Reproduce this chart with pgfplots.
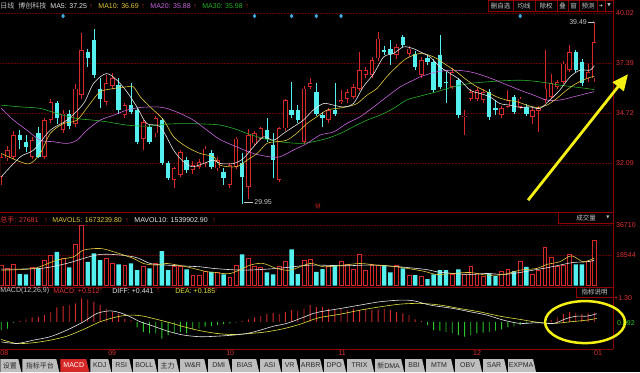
\documentclass[border=0pt]{standalone}
\usepackage{pgfplots}
\pgfplotsset{compat=1.18}
\usepackage{pgfplotstable}
\usepackage{fontspec}
\setmainfont{Liberation Sans}
\newfontfamily\cjk{Noto Sans CJK SC}
\newfontfamily\dejavu{DejaVu Sans}
\usetikzlibrary{arrows.meta}

\definecolor{upred}{RGB}{215,40,40}
\definecolor{dncyan}{RGB}{84,240,240}
\definecolor{ma5c}{RGB}{230,230,230}
\definecolor{ma10c}{RGB}{225,200,60}
\definecolor{ma20c}{RGB}{200,100,220}
\definecolor{ma30c}{RGB}{40,175,40}
\definecolor{gridred}{RGB}{100,0,0}
\definecolor{sepred}{RGB}{140,0,0}
\definecolor{lblred}{RGB}{225,50,50}
\definecolor{macdgreen}{RGB}{40,200,40}
\definecolor{deac}{RGB}{225,225,60}
\definecolor{diamc}{RGB}{60,170,225}
\definecolor{lgray}{RGB}{200,200,200}
\definecolor{tabgray}{RGB}{190,190,190}
\definecolor{tabtext}{RGB}{40,40,40}
\definecolor{arrowy}{RGB}{245,240,20}

\pgfplotstableread{
i o h l c
0 31.38 32.60 30.94 32.43
1 32.35 33.00 32.20 32.79
2 32.43 33.80 32.30 33.58
5 32.43 33.50 32.30 33.31
7 32.43 34.50 32.30 34.37
8 34.37 35.50 34.20 35.34
10 33.84 34.90 33.70 34.72
12 34.19 36.30 34.00 36.04
13 35.69 38.95 35.50 38.07
17 35.34 36.75 35.16 36.31
18 36.20 36.85 36.00 36.60
20 34.63 35.30 34.50 35.16
23 33.40 34.40 32.79 34.28
25 33.67 34.60 33.50 34.46
28 31.20 31.90 30.76 31.82
29 31.47 32.80 31.38 32.70
31 31.73 32.20 31.50 31.99
32 31.91 32.30 31.80 32.17
33 32.08 33.00 31.90 32.87
35 31.82 32.40 31.70 32.26
37 30.94 32.10 30.80 31.99
38 31.91 33.50 31.80 33.40
40 30.85 33.90 30.20 33.58
41 33.14 33.80 33.00 33.67
42 33.40 34.00 33.30 33.93
45 31.20 34.00 31.10 33.93
46 33.93 35.50 33.80 35.43
49 33.23 36.20 33.10 36.04
50 36.13 36.57 36.00 36.31
53 34.37 35.00 34.20 34.90
55 35.34 35.95 35.20 35.43
56 35.51 36.00 35.30 35.87
57 35.60 36.30 35.50 36.13
58 36.04 37.98 35.90 37.01
59 36.75 37.20 36.60 37.01
60 36.75 37.70 36.60 37.54
61 37.63 39.03 37.50 38.68
64 37.80 38.40 37.60 38.24
66 37.89 38.30 37.70 38.15
68 36.75 37.70 36.60 37.54
73 36.13 37.10 36.00 36.92
75 34.55 34.90 33.58 34.60
76 35.51 36.00 35.40 35.87
77 35.51 36.10 35.40 35.95
78 35.43 36.00 35.30 35.87
81 34.63 35.10 34.50 34.99
82 35.07 35.95 35.00 35.43
84 35.07 35.60 34.95 35.51
86 34.55 35.00 34.19 34.90
87 34.86 35.10 33.75 34.99
88 35.43 38.07 35.30 36.04
89 35.60 36.83 35.50 36.31
90 36.13 36.50 36.00 36.39
91 36.39 37.50 36.30 37.36
92 37.01 38.33 36.90 37.98
95 36.57 37.36 36.40 36.92
96 36.57 39.49 36.40 38.51
}\upc

\pgfplotstableread{
i o h l c
3 33.58 33.84 32.87 33.31
4 33.23 33.58 32.70 32.96
6 33.67 34.02 32.35 32.43
9 35.29 35.40 34.19 34.46
11 34.72 34.90 33.90 34.05
14 37.98 38.15 37.19 37.63
15 38.59 39.21 36.60 36.75
16 36.04 36.57 34.99 35.51
19 36.22 36.57 34.72 34.90
21 35.16 36.31 34.70 34.81
22 34.90 35.00 33.10 33.23
24 34.02 34.10 33.10 33.23
26 34.37 34.50 32.00 32.08
27 32.08 32.20 31.20 31.29
30 32.26 32.40 31.60 31.73
34 32.61 32.80 31.80 31.91
36 31.64 31.82 30.94 31.29
39 32.08 32.61 29.95 31.38
43 33.84 34.46 33.23 33.40
44 33.05 33.67 31.29 32.26
47 34.90 36.39 34.50 34.63
48 34.90 35.16 34.20 34.37
51 35.87 36.31 34.60 34.72
52 34.63 34.81 34.02 34.46
54 34.90 36.31 34.60 34.72
62 38.07 38.30 37.80 37.98
63 38.15 38.59 37.27 37.89
65 38.77 38.85 38.24 38.33
67 37.89 38.00 37.00 37.19
69 37.63 37.80 37.30 37.45
70 37.45 37.60 35.80 35.95
71 37.80 38.86 36.00 36.13
72 36.39 36.92 35.25 36.31
74 36.48 36.60 34.50 34.63
79 35.87 36.00 34.40 34.55
80 34.99 35.43 34.63 34.90
83 35.57 35.70 34.70 34.81
85 35.07 35.20 34.60 34.72
93 37.98 38.10 36.90 37.01
94 37.45 37.60 36.20 36.31
}\dnc

\pgfplotstableread{
i v
0 12458
1 10441
2 12862
5 11046
7 15484
8 18509
10 16492
12 24964
13 36710
17 16492
18 13467
20 12458
23 11450
25 13467
28 11450
29 11450
31 6407
32 6003
33 8424
35 8020
37 4793
38 12055
40 16492
41 11450
42 10845
45 11450
46 14475
49 15484
50 16089
53 11450
55 14879
56 12862
57 10038
58 18913
59 9432
60 12055
61 12458
64 12055
66 6003
68 5398
73 6810
75 6810
76 11450
77 7416
78 5398
81 8424
82 10038
84 14879
86 6810
87 9432
88 22946
89 16895
90 11450
91 12055
92 18913
95 14879
96 27681
}\volup

\pgfplotstableread{
i v
3 7012
4 6810
6 10441
9 20526
11 11046
14 14475
15 19518
16 15484
19 12862
21 13467
22 9432
24 10441
26 20930
27 9432
30 9836
34 8424
36 6810
39 18913
43 8020
44 6810
47 21937
48 7012
51 8424
52 10038
54 12458
62 12458
63 8020
65 10441
67 6407
69 3987
70 6810
71 9432
72 9432
74 9836
79 7416
80 5802
83 8827
85 11450
93 12862
94 12862
}\voldn

\pgfplotstableread{
i m
3 0.05
4 0.13
5 0.24
6 0.27
7 0.37
8 0.55
9 0.79
10 0.86
11 0.92
12 1.01
13 1.28
14 1.23
15 1.10
16 0.92
17 0.73
18 0.55
19 0.42
20 0.18
21 0.09
39 0.05
40 0.13
41 0.24
42 0.31
43 0.42
44 0.49
45 0.42
46 0.55
47 0.64
48 0.60
49 0.73
50 0.92
51 0.82
52 0.82
53 0.73
54 0.64
55 0.73
56 0.64
57 0.73
58 0.64
59 0.73
60 0.64
61 0.68
62 0.73
63 0.64
64 0.55
65 0.46
66 0.37
67 0.13
68 0.04
89 0.09
90 0.24
91 0.42
92 0.55
93 0.49
94 0.42
95 0.46
96 0.512
}\macdpos

\pgfplotstableread{
i m
0 -0.46
1 -0.37
2 -0.05
22 -0.31
23 -0.55
24 -0.64
25 -0.64
26 -0.92
27 -0.73
28 -0.64
29 -0.55
30 -0.64
31 -0.42
32 -0.37
33 -0.27
34 -0.24
35 -0.18
36 -0.13
37 -0.09
38 -0.04
69 -0.18
70 -0.46
71 -0.49
72 -0.55
73 -0.64
74 -0.73
75 -0.82
76 -0.73
77 -0.64
78 -0.60
79 -0.55
80 -0.49
81 -0.42
82 -0.31
83 -0.27
84 -0.18
85 -0.09
86 -0.05
87 -0.05
88 -0.02
}\macdneg

\pgfplotsset{panel/.style={scale only axis, width=612pt, xmin=-0.16, xmax=98.87,
  axis line style={draw=none}, xtick=\empty, ytick=\empty, clip=true}}

\newcommand{\tabb}[5]{%
  \fill[#4] (#1,0) -- (#1,13) -- ({#2-3},13) -- (#2,0) -- cycle;
  \node[text=#5] at ({(#1+#2)/2-1},6.5) {#3};}

\begin{document}
\begin{tikzpicture}
\fill[black] (0pt,0pt) rectangle (640pt,372pt);

\begin{scope}[x=1pt,y=1pt]
\foreach \yy in {359,309,259,209} \draw[gridred, densely dotted, line width=0.5pt] (0,\yy) -- (612,\yy);
\foreach \yy in {147,117} \draw[gridred, densely dotted, line width=0.5pt] (0,\yy) -- (612,\yy);
\end{scope}

% ===== price panel =====
\begin{axis}[panel, at={(0pt,160pt)}, anchor=south west, height=200pt, ymin=29.51, ymax=40.07]
\addplot[draw=none, mark=none, error bars/.cd, y dir=plus, y explicit, error mark=none,
  error bar style={draw=upred, line width=0.7pt}]
  table[x=i, y=l, y error plus expr=\thisrow{h}-\thisrow{l}] {\upc};
\addplot[draw=none, mark=none, error bars/.cd, y dir=plus, y explicit, error mark=none,
  error bar style={draw=upred, line width=4.4pt}]
  table[x=i, y=o, y error plus expr=\thisrow{c}-\thisrow{o}] {\upc};
\addplot[draw=none, mark=none, error bars/.cd, y dir=plus, y explicit, error mark=none,
  error bar style={draw=black, line width=2.8pt, shorten >=0.8pt, shorten <=0.8pt}]
  table[x=i, y=o, y error plus expr=\thisrow{c}-\thisrow{o}] {\upc};
\addplot[draw=none, mark=none, error bars/.cd, y dir=plus, y explicit, error mark=none,
  error bar style={draw=dncyan, line width=0.7pt}]
  table[x=i, y=l, y error plus expr=\thisrow{h}-\thisrow{l}] {\dnc};
\addplot[draw=none, mark=none, error bars/.cd, y dir=plus, y explicit, error mark=none,
  error bar style={draw=dncyan, line width=4.4pt}]
  table[x=i, y=c, y error plus expr=\thisrow{o}-\thisrow{c}] {\dnc};
\addplot[ma30c, line width=0.6pt, smooth, mark=none] coordinates {(0,35.16) (3.07,35.07) (6.31,34.99) (9.0,34.72) (12.2,34.46) (14.9,34.37) (17.1,34.28) (20.3,34.11) (23.6,34.05) (26.8,34.16) (30.0,34.19) (33.3,34.16) (35.4,34.11) (37.6,33.93) (39.8,33.67) (42.4,33.40) (45.1,33.23) (48.4,33.14) (50.5,33.23) (52.7,33.40) (54.9,33.67) (57.0,34.02) (59.2,34.37) (61.3,34.63) (63.5,34.99) (65.6,35.43) (67.8,35.64) (70.5,35.87) (73.2,36.13) (75.9,36.31) (78.6,36.39) (81.3,36.45) (84.0,36.48) (86.2,36.43) (88.3,36.34) (90.4,36.22) (92.6,36.13) (94.8,36.04) (96,35.98)};
\addplot[ma20c, line width=0.6pt, smooth, mark=none] coordinates {(0,34.99) (2.0,34.37) (4.15,33.84) (6.31,33.31) (8.47,33.23) (10.63,33.14) (12.24,33.31) (13.86,33.84) (16.02,34.37) (18.18,34.63) (20.33,34.90) (22.5,35.04) (25.2,35.07) (26.8,34.99) (29.0,34.72) (31.1,34.37) (33.3,33.84) (35.4,33.35) (38.1,32.96) (40.8,32.61) (43.5,32.43) (45.1,32.43) (47.3,32.79) (49.5,33.14) (51.6,33.58) (53.8,33.75) (55.9,34.19) (58.1,34.55) (60.3,35.07) (62.4,35.60) (64.6,36.13) (66.7,36.48) (67.8,36.66) (70.5,36.92) (73.2,37.01) (75.9,36.92) (78.6,36.66) (81.3,36.31) (84.0,35.95) (86.2,35.69) (88.3,35.43) (90.4,35.43) (92.6,35.60) (94.8,35.78) (96,35.88)};
\addplot[ma10c, line width=0.6pt, smooth, mark=none] coordinates {(0,32.61) (3.07,32.17) (4.69,32.08) (6.31,32.61) (7.93,33.67) (10.09,34.19) (12.24,34.37) (14.4,35.25) (16.02,35.87) (18.18,36.04) (20.33,36.13) (21.4,36.13) (22.5,35.60) (24.1,35.07) (26.3,34.37) (27.9,33.49) (30.0,32.96) (32.2,32.61) (34.4,32.43) (35.4,31.99) (38.1,31.91) (39.8,32.26) (41.4,32.61) (43.0,33.14) (44.6,33.23) (46.2,33.31) (47.8,33.67) (49.5,34.19) (51.1,34.55) (52.7,34.90) (54.3,34.99) (55.9,35.07) (57.6,35.25) (59.2,35.69) (60.8,36.04) (62.4,36.66) (64.0,37.19) (65.6,37.63) (67.8,37.89) (70.0,37.71) (72.1,37.27) (73.7,36.92) (75.4,36.48) (77.0,36.13) (78.6,35.87) (80.2,35.60) (81.8,35.43) (83.5,35.34) (85.1,35.16) (86.7,35.04) (88.3,35.16) (89.9,35.51) (91.5,35.95) (93.1,36.31) (94.8,36.57) (96,36.69)};
\addplot[ma5c, line width=0.6pt, smooth, mark=none] coordinates {(0,31.38) (3.07,32.43) (5.23,32.79) (7.93,33.84) (10.63,34.37) (13.32,35.25) (14.94,36.31) (16.99,36.83) (18.72,36.48) (20.33,35.87) (21.95,35.07) (23.57,34.19) (25.73,34.02) (27.89,32.79) (29.23,32.26) (30.85,31.91) (32.74,32.08) (34.36,32.26) (35.44,32.08) (37.6,32.08) (39.2,32.35) (40.83,32.96) (42.45,33.49) (44.07,33.31) (45.68,33.67) (47.3,34.02) (48.9,34.37) (50.5,34.90) (52.2,35.25) (53.8,35.16) (55.4,35.07) (57.0,35.25) (58.6,36.13) (60.3,36.83) (61.9,37.71) (63.5,37.89) (65.1,38.24) (66.7,38.15) (67.8,37.98) (69.4,37.71) (71.0,37.19) (72.7,36.83) (74.3,36.48) (75.9,35.95) (77.5,35.78) (79.1,35.60) (80.7,35.25) (82.4,35.16) (84.0,35.04) (85.6,35.07) (87.2,34.99) (88.8,35.43) (90.4,35.95) (92.1,36.66) (93.7,37.01) (95.3,37.01) (96,37.25)};
\addplot[only marks, mark=diamond*, mark size=2pt, color=diamc] coordinates {(10,39.87) (41,39.87) (47,39.87) (51,39.87) (55,39.87) (84,39.87)};
\end{axis}

% ===== volume panel =====
\begin{axis}[panel, at={(0pt,86pt)}, anchor=south west, height=74pt, ymin=-240, ymax=44528]
\addplot[ybar, bar width=3.8pt, bar shift=0pt, draw=upred, fill=black, line width=0.7pt] table[x=i, y=v] {\volup};
\addplot[ybar, bar width=4.4pt, bar shift=0pt, draw=none, fill=dncyan] table[x=i, y=v] {\voldn};
\addplot[ma5c, line width=0.6pt, smooth, mark=none] coordinates {(0,10038) (6.3,10441) (10.6,13500) (16.0,18913) (21.4,17501) (24.1,13467) (26.8,12458) (32.2,11450) (34.4,10441) (39.2,9432) (44.6,10441) (50.0,12458) (55.4,12055) (60.8,12458) (68.3,10038) (70.5,8424) (73.2,7416) (75.9,6810) (78.6,7416) (81.3,6810) (84.0,8020) (86.1,9432) (88.3,10845) (90.4,12458) (92.6,14072) (94.8,14475) (96,15399)};
\addplot[ma10c, line width=0.6pt, smooth, mark=none] coordinates {(0,9432) (5.2,10441) (9.0,15484) (11.7,17501) (13.3,21534) (16.0,22543) (18.2,20526) (21.4,16492) (23.0,13467) (25.2,12458) (26.8,13467) (30.0,11450) (33.3,8424) (34.6,8020) (37.1,7416) (40.3,12458) (42.4,13467) (44.6,10441) (46.8,9432) (50.0,13467) (52.2,11450) (55.4,12458) (58.1,13467) (60.8,12458) (64.0,11450) (68.3,8827) (70.5,6810) (73.2,7416) (75.9,8020) (78.6,6407) (81.3,6810) (84.0,9432) (86.7,10441) (88.3,12862) (90.4,14475) (92.3,18106) (94.2,14475) (96,16732)};
\end{axis}

% ===== MACD panel =====
\begin{axis}[panel, at={(0pt,24pt)}, anchor=south west, height=58pt, ymin=-1.444, ymax=1.740]
\addplot[ybar, bar width=0.9pt, bar shift=0pt, draw=none, fill=upred] table[x=i, y=m] {\macdpos};
\addplot[ybar, bar width=0.9pt, bar shift=0pt, draw=none, fill=macdgreen] table[x=i, y=m] {\macdneg};
\addplot[deac, line width=0.6pt, smooth, mark=none] coordinates {(0,-0.97) (2.5,-1.19) (5.2,-1.15) (7.9,-1.01) (10.6,-0.79) (13.3,-0.42) (16.0,0.00) (18.7,0.27) (20.9,0.37) (23.0,0.31) (25.2,0.13) (27.3,-0.05) (29.5,-0.27) (32.2,-0.49) (34.9,-0.64) (37.6,-0.70) (40.3,-0.64) (43.0,-0.55) (45.8,-0.37) (48.4,-0.13) (50.5,0.13) (51.6,0.24) (54.9,0.42) (58.1,0.64) (61.3,0.82) (64.6,0.97) (67.8,1.01) (71.0,0.92) (74.2,0.73) (77.4,0.55) (80.7,0.31) (84.0,0.13) (86.7,-0.02) (89.4,-0.09) (92.1,0.00) (94.8,0.09) (96.4,0.185)};
\addplot[ma5c, line width=0.6pt, smooth, mark=none] coordinates {(0,-1.10) (2.5,-1.19) (5.2,-1.01) (7.9,-0.82) (10.6,-0.46) (13.3,0.00) (15.5,0.46) (17.6,0.60) (19.3,0.49) (20.9,0.27) (22.5,0.00) (24.1,-0.18) (25.7,-0.37) (27.3,-0.55) (29.5,-0.73) (32.2,-0.82) (34.9,-0.79) (37.6,-0.73) (39.8,-0.64) (41.9,-0.46) (44.1,-0.24) (46.2,-0.09) (48.4,0.18) (50.5,0.46) (51.6,0.55) (54.9,0.73) (58.1,0.92) (61.3,1.10) (64.6,1.19) (66.8,1.15) (69.4,0.92) (73.2,0.73) (75.9,0.55) (78.6,0.37) (81.3,0.09) (84.0,-0.09) (86.7,-0.05) (89.4,-0.09) (91.5,0.18) (93.2,0.31) (94.8,0.31) (96.4,0.441)};
\end{axis}

\begin{scope}[x=1pt,y=1pt, every node/.style={font=\fontsize{7}{8}\selectfont, inner sep=0pt}]
\draw[sepred, line width=0.6pt] (0,160) -- (613,160);
\draw[sepred, line width=0.6pt] (0,85) -- (613,85);
\draw[sepred, line width=0.6pt] (0,23) -- (613,23);
\draw[sepred, line width=0.6pt] (613,360) -- (613,23);

\node[anchor=west, text=lgray] at (0,366) {\cjk 日线};
\node[anchor=west, text=lgray] at (18,366) {\cjk 博创科技};
\node[anchor=west, text=ma5c] at (50,366) {MA5: 37.25};
\node[anchor=west, text=upred] at (89,366) {↑};
\node[anchor=west, text=ma10c] at (98,366) {MA10: 36.69};
\node[anchor=west, text=upred] at (141,366) {↑};
\node[anchor=west, text=ma20c] at (150,366) {MA20: 35.88};
\node[anchor=west, text=upred] at (193,366) {↑};
\node[anchor=west, text=ma30c] at (202,366) {MA30: 35.98};
\node[anchor=west, text=upred] at (245,366) {↑};

\foreach \xa/\xb/\tx in {488/513/删自选, 513/535/均线, 535/557/除权, 557/568/叠, 568/579/窗, 579/597/预测}{
  \draw[sepred, line width=0.5pt] (\xa,361) rectangle (\xb,372);
  \node[text=lgray] at ({(\xa+\xb)/2},366.5) {\cjk\fontsize{6.5}{7}\selectfont \tx};
}
\draw[sepred, line width=0.5pt] (597,361) rectangle (605,372);
\node[text=lgray] at (601,366.5) {\dejavu\fontsize{5}{6}\selectfont ➜};
\draw[sepred, line width=0.5pt] (605,361) rectangle (613,372);
\node[text=lgray] at (609,366.5) {\dejavu\fontsize{4.5}{5}\selectfont ▼};

\node[anchor=west, text=lblred] at (616,359) {40.02};
\node[anchor=west, text=lblred] at (616,309.5) {37.39};
\node[anchor=west, text=lblred] at (616,259) {34.72};
\node[anchor=west, text=lblred] at (616,209.5) {32.09};

\draw[lgray, line width=0.5pt] (244,170) -- (253,170);
\node[anchor=west, text=lgray] at (254,170) {29.95};
\node[anchor=east, text=lgray] at (587,350) {39.49};
\draw[lgray, line width=0.5pt, -{Stealth[length=2pt]}] (588,350) -- (595,350);
\node[text=upred] at (318,166) {\cjk\fontsize{5.5}{6}\selectfont 财};

\node[anchor=west, text=lblred] at (0,152) {{\cjk 总手}: 27681};
\node[anchor=west, text=upred] at (44,152) {↑};
\node[anchor=west, text=ma10c] at (52,152) {MAVOL5: 1673239.80};
\node[anchor=west, text=upred] at (125,152) {↑};
\node[anchor=west, text=ma5c] at (134,152) {MAVOL10: 1539902.90};
\node[anchor=west, text=upred] at (212,152) {↑};
\draw[sepred, line width=0.5pt] (558,149) rectangle (613,160);
\node[text=lgray] at (586,154.5) {\cjk\fontsize{6.5}{7}\selectfont 成交量};
\node[text=lgray] at (608,154.5) {\dejavu\fontsize{4}{5}\selectfont ▼};
\node[anchor=west, text=lblred] at (616,147) {36710};
\node[anchor=west, text=lblred] at (616,117) {18544};

\node[anchor=west, text=lgray] at (0,81) {MACD(12,26,9)};
\node[anchor=west, text=lblred] at (53,81) {MACD: +0.512};
\node[anchor=west, text=upred] at (99,81) {↑};
\node[anchor=west, text=ma5c] at (112,81) {DIFF: +0.441};
\node[anchor=west, text=upred] at (156,81) {↑};
\node[anchor=west, text=deac] at (175,81) {DEA: +0.185};
\node[anchor=west, text=upred] at (214,81) {↑};
\draw[sepred, line width=0.5pt] (576,75) rectangle (613,85);
\node[text=lgray] at (594.5,80) {\cjk\fontsize{6.5}{7}\selectfont 指标说明};
\node[anchor=west, text=lblred] at (614,74) {+1.30};
\node[anchor=west, text=macdgreen] at (617,49) {0.092};

\foreach \xx/\mm in {4/08, 112/09, 230/10, 342/11, 477/12, 598/01}
  \node[text=lblred] at (\xx,19) {\mm};

\tabb{0}{21}{\cjk 设置}{tabgray}{tabtext}
\tabb{22}{59}{\cjk 指标平台}{tabgray}{tabtext}
\tabb{60}{89}{MACD}{upred}{white}
\tabb{90}{111}{KDJ}{tabgray}{tabtext}
\tabb{112}{132}{RSI}{tabgray}{tabtext}
\tabb{133}{157}{BOLL}{tabgray}{tabtext}
\tabb{158}{179}{\cjk 主力}{tabgray}{tabtext}
\tabb{180}{207}{W\&R}{tabgray}{tabtext}
\tabb{208}{231}{DMI}{tabgray}{tabtext}
\tabb{232}{259}{BIAS}{tabgray}{tabtext}
\tabb{260}{281}{ASI}{tabgray}{tabtext}
\tabb{282}{299}{VR}{tabgray}{tabtext}
\tabb{300}{323}{ARBR}{tabgray}{tabtext}
\tabb{324}{346}{DPO}{tabgray}{tabtext}
\tabb{347}{374}{TRIX}{tabgray}{tabtext}
\tabb{375}{404}{{\cjk 新}DMA}{tabgray}{tabtext}
\tabb{405}{425}{BBI}{tabgray}{tabtext}
\tabb{426}{454}{MTM}{tabgray}{tabtext}
\tabb{455}{482}{OBV}{tabgray}{tabtext}
\tabb{483}{507}{SAR}{tabgray}{tabtext}
\tabb{508}{536}{EXPMA}{tabgray}{tabtext}

\draw[arrowy, line width=2.8pt, -{Triangle[length=16pt, width=14pt]}] (528,172) -- (628,298);
\draw[arrowy, line width=2.5pt] (585,50) ellipse (40 and 21);
\end{scope}
\end{tikzpicture}
\end{document}
